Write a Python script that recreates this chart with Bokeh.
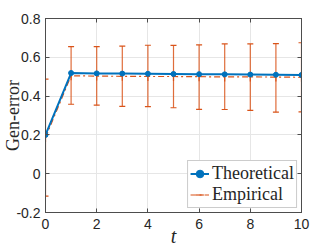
import math
from bokeh.plotting import figure
from bokeh.models import (Range1d, FixedTicker, LinearAxis, CustomJSTickFormatter,
                          Legend, LegendItem, ColumnDataSource)
from bokeh.embed import file_html
from bokeh.resources import INLINE

# ---- data ----
t = [0, 1, 2, 3, 4, 5, 6, 7, 8, 9, 10]
theoretical = [0.200, 0.519, 0.517, 0.516, 0.515, 0.514, 0.513, 0.512, 0.511, 0.510, 0.509]
empirical = [0.186, 0.505, 0.503, 0.502, 0.501, 0.501, 0.500, 0.499, 0.499, 0.498, 0.497]
emp_upper = [0.487, 0.655, 0.655, 0.658, 0.662, 0.661, 0.664, 0.669, 0.669, 0.671, 0.675]
emp_lower = [-0.116, 0.358, 0.353, 0.347, 0.346, 0.340, 0.332, 0.331, 0.326, 0.317, 0.319]
xticks = [0, 2, 4, 6, 8, 10]
yticks = [-0.2, 0, 0.2, 0.4, 0.6, 0.8]
x_label = "t"
y_label = "Gen-error"

BLUE = "#0072BD"
ORANGE = "#D95319"
AXC = "#4d4d4d"
TXT = "#262626"

src = ColumnDataSource(dict(t=t, th=theoretical, em=empirical, up=emp_upper, lo=emp_lower))

p = figure(width=332, height=249, output_backend="svg", toolbar_location=None,
           x_range=Range1d(0, 10), y_range=Range1d(-0.2, 0.8),
           min_border_left=43, min_border_right=31, min_border_top=18, min_border_bottom=37)
p.background_fill_color = "white"
p.border_fill_color = "white"
p.outline_line_color = AXC

# grid
for g in (p.xgrid[0], p.ygrid[0]):
    g.grid_line_color = "#e6e6e6"
    g.grid_line_width = 1
p.xgrid[0].ticker = FixedTicker(ticks=xticks)
p.ygrid[0].ticker = FixedTicker(ticks=yticks)

# axes
def style_axis(ax, ticks, show_labels=True):
    ax.ticker = FixedTicker(ticks=ticks)
    ax.axis_line_color = AXC
    ax.major_tick_line_color = AXC
    ax.major_tick_in = 4
    ax.major_tick_out = 0
    ax.minor_tick_line_color = None
    ax.major_label_text_color = TXT
    ax.major_label_text_font = "Liberation Sans"
    ax.major_label_text_font_size = "14px"
    if not show_labels:
        ax.formatter = CustomJSTickFormatter(code="return '';")
        ax.major_label_standoff = 0

xa = p.xaxis[0]
ya = p.yaxis[0]
style_axis(xa, xticks)
style_axis(ya, yticks)
ya.formatter = CustomJSTickFormatter(code="return tick.toFixed(1).replace('.0', '');")
xa.major_label_standoff = 6
ya.major_label_standoff = 5

xa.axis_label = x_label
xa.axis_label_text_font = "Liberation Serif"
xa.axis_label_text_font_style = "italic"
xa.axis_label_text_font_size = "20px"
xa.axis_label_text_color = TXT
xa.axis_label_standoff = -7

ya.axis_label = y_label
ya.axis_label_text_font = "Liberation Serif"
ya.axis_label_text_font_style = "normal"
ya.axis_label_text_font_size = "18px"
ya.axis_label_text_color = TXT
ya.axis_label_standoff = -10

top = LinearAxis()
right = LinearAxis()
style_axis(top, xticks, show_labels=False)
style_axis(right, yticks, show_labels=False)
p.add_layout(top, "above")
p.add_layout(right, "right")

# error bars
p.segment(x0="t", y0="lo", x1="t", y1="up", source=src, line_color=ORANGE,
          line_width=1.2, line_alpha=0.85)
p.scatter(x="t", y="up", source=src, marker="dash", size=6, line_color=ORANGE, line_width=1.2)
p.scatter(x="t", y="lo", source=src, marker="dash", size=6, line_color=ORANGE, line_width=1.2)

# empirical mean line (dash-dot)
emp_line = p.line(x="t", y="em", source=src, line_color=ORANGE, line_width=1.2,
                  line_dash="6 3 2 3")
emp_bar = p.scatter(x="t", y="em", source=src, marker="dash", angle=math.pi / 2,
                    size=9, line_color=ORANGE, line_width=1.2)

# theoretical
th_line = p.line(x="t", y="th", source=src, line_color=BLUE, line_width=2)
th_pts = p.scatter(x="t", y="th", source=src, marker="circle", size=5,
                   fill_color=BLUE, line_color=BLUE)

legend = Legend(items=[
    LegendItem(label="Theoretical", renderers=[th_line, th_pts]),
    LegendItem(label="Empirical", renderers=[emp_line, emp_bar]),
], location="bottom_right")
legend.label_text_font = "Liberation Serif"
legend.label_text_font_style = "normal"
legend.label_text_font_size = "18px"
legend.label_text_color = TXT
legend.border_line_color = "#999999"
legend.border_line_width = 1
legend.background_fill_alpha = 1
legend.margin = 4
legend.padding = 2
legend.spacing = 0
legend.label_height = 21
legend.glyph_height = 21
legend.glyph_width = 19
legend.label_standoff = 3
p.add_layout(legend, "center")

open("out.html", "w").write(file_html(p, INLINE))
